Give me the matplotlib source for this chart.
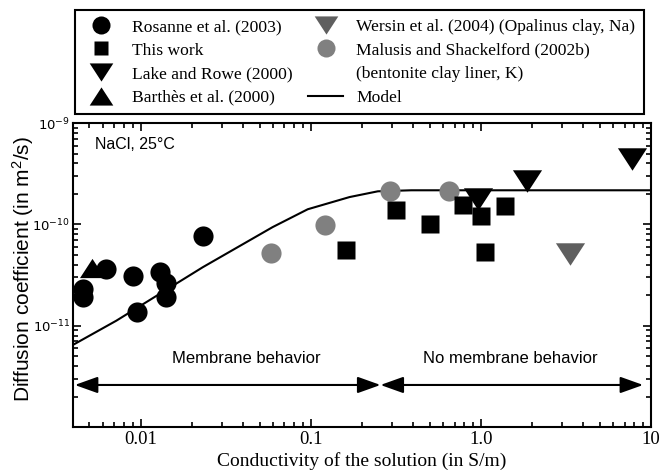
import numpy as np
import matplotlib.pyplot as plt
from matplotlib.lines import Line2D
from matplotlib.ticker import FixedLocator, LogLocator, NullFormatter

plt.rcParams['mathtext.fontset'] = 'custom'
plt.rcParams['mathtext.rm'] = 'Liberation Sans'
plt.rcParams['mathtext.it'] = 'Liberation Sans:italic'

# data (conductivity in S/m, diffusion coefficient in m2/s)
rosanne_x = [0.00458, 0.00458, 0.00628, 0.00901, 0.0095, 0.01294, 0.01403, 0.01403, 0.0232]
rosanne_y = [2.31e-11, 1.90e-11, 3.64e-11, 3.08e-11, 1.35e-11, 3.37e-11, 2.65e-11, 1.94e-11, 7.6e-11]

this_work_x = [0.161, 0.315, 0.501, 0.787, 1.0, 1.056, 1.38]
this_work_y = [5.53e-11, 1.38e-10, 1.02e-10, 1.54e-10, 1.2e-10, 5.3e-11, 1.51e-10]

lake_x = [0.964, 1.86, 7.7]
lake_y = [1.76e-10, 2.67e-10, 4.37e-10]

barthes_x = [0.00515]
barthes_y = [3.75e-11]

wersin_x = [3.34]
wersin_y = [5.13e-11]

malusis_x = [0.058, 0.121, 0.294, 0.648]
malusis_y = [5.2e-11, 9.77e-11, 2.14e-10, 2.14e-10]

model_x = [0.00409, 0.00719, 0.0232, 0.0597, 0.096, 0.169, 0.248, 0.39, 10.0]
model_y = [6.6e-12, 1.12e-11, 3.78e-11, 9.4e-11, 1.41e-10, 1.86e-10, 2.12e-10, 2.17e-10, 2.17e-10]

xticks = [0.01, 0.1, 1.0, 10]
xtick_labels = ['0.01', '0.1', '1.0', '10']
yticks = [1e-11, 1e-10, 1e-9]
ytick_labels = [r'$\mathregular{10^{-11}}$', r'$\mathregular{10^{-10}}$', r'$\mathregular{10^{-9}}$']

# wide flat triangles like in the original
tri_down = [(-1.3, 1), (1.3, 1), (0, -1), (-1.3, 1)]
tri_up = [(-1.3, -1), (1.3, -1), (0, 1), (-1.3, -1)]

serif = 'Liberation Serif'
sans = 'Liberation Sans'

fig = plt.figure(figsize=(6.61, 4.72), dpi=100)
ax = fig.add_axes([0.1104, 0.0953, 0.8744, 0.644])

ax.plot(model_x, model_y, color='black', lw=1.5, zorder=2)
ax.plot(rosanne_x, rosanne_y, 'o', color='black', ms=14.5, mec='none', zorder=3)
ax.plot(barthes_x, barthes_y, marker=tri_up, ls='none', color='black', ms=18, mec='none', zorder=3)
ax.plot(malusis_x, malusis_y, 'o', color='#808080', ms=14.5, mec='none', zorder=3)
ax.plot(this_work_x, this_work_y, 's', color='black', ms=12.5, mec='none', zorder=4)
ax.plot(lake_x, lake_y, marker=tri_down, ls='none', color='black', ms=21, mec='none', zorder=4)
ax.plot(wersin_x, wersin_y, marker=tri_down, ls='none', color='#5f5f5f', ms=21, mec='none', zorder=4)

ax.set_xscale('log')
ax.set_yscale('log')
ax.set_xlim(0.004, 10)
ax.set_ylim(1e-12, 1e-9)

ax.xaxis.set_major_locator(FixedLocator(xticks))
ax.set_xticklabels(xtick_labels, fontfamily=serif, fontsize=13.5)
ax.xaxis.set_minor_locator(LogLocator(base=10, subs=np.arange(2, 10)))
ax.xaxis.set_minor_formatter(NullFormatter())
ax.yaxis.set_major_locator(FixedLocator(yticks))
ax.set_yticklabels(ytick_labels, fontsize=9.5)
ax.yaxis.set_minor_locator(LogLocator(base=10, subs=np.arange(2, 10)))
ax.yaxis.set_minor_formatter(NullFormatter())

ax.tick_params(which='both', direction='in', top=True, right=True, width=1.2)
ax.tick_params(which='major', length=6)
ax.tick_params(which='minor', length=3.5)
ax.tick_params(axis='y', pad=2)
ax.tick_params(axis='x', pad=3)
for s in ax.spines.values():
    s.set_linewidth(1.5)

ax.set_xlabel('Conductivity of the solution (in S/m)', fontfamily=serif, fontsize=14, labelpad=2.5)
ax.set_ylabel(r'Diffusion coefficient (in m$^\mathregular{2}$/s)', fontfamily=sans, fontsize=15)
ax.yaxis.set_label_coords(-0.064, 0.52)

ax.text(0.038, 0.928, 'NaCl, 25°C', transform=ax.transAxes, fontfamily=sans, fontsize=11.5,
        va='center', ha='left')

# membrane / no membrane regions
arrow_y = 2.6e-12
split_x = 0.257
ap = dict(arrowstyle='<|-|>,head_length=1.4,head_width=0.5', mutation_scale=10,
          color='black', lw=1.5, shrinkA=0, shrinkB=0)
ax.annotate('', xy=(split_x, arrow_y), xytext=(0.0041, arrow_y), arrowprops=ap)
ax.annotate('', xy=(9.0, arrow_y), xytext=(split_x, arrow_y), arrowprops=ap)
ax.text(0.042, 4.7e-12, 'Membrane behavior', fontfamily=sans, fontsize=12, ha='center', va='center')
ax.text(1.5, 4.7e-12, 'No membrane behavior', fontfamily=sans, fontsize=12, ha='center', va='center')

handles = [
    Line2D([], [], marker='o', ls='none', color='black', ms=13, mec='none'),
    Line2D([], [], marker='s', ls='none', color='black', ms=10.5, mec='none'),
    Line2D([], [], marker=tri_down, ls='none', color='black', ms=17, mec='none'),
    Line2D([], [], marker=tri_up, ls='none', color='black', ms=17, mec='none'),
    Line2D([], [], marker=tri_down, ls='none', color='#5f5f5f', ms=17, mec='none'),
    Line2D([], [], marker='o', ls='none', color='#808080', ms=13, mec='none'),
    Line2D([], [], ls='none'),
    Line2D([], [], color='black', lw=1.5),
]
labels = ['Rosanne et al. (2003)', 'This work', 'Lake and Rowe (2000)', 'Barthès et al. (2000)',
          'Wersin et al. (2004) (Opalinus clay, Na)', 'Malusis and Shackelford (2002b)',
          '(bentonite clay liner, K)', 'Model']
leg = fig.legend(handles, labels, ncol=2, loc='upper left', bbox_to_anchor=(0.1135, 0.979),
                 prop={'family': serif, 'size': 12.6}, frameon=True, fancybox=False,
                 edgecolor='black', framealpha=1, handlelength=2.0, handletextpad=0.75,
                 columnspacing=0.9, labelspacing=0.42, borderpad=0.5, borderaxespad=0)
leg.get_frame().set_linewidth(1.5)

fig.savefig('out.png', dpi=100)
